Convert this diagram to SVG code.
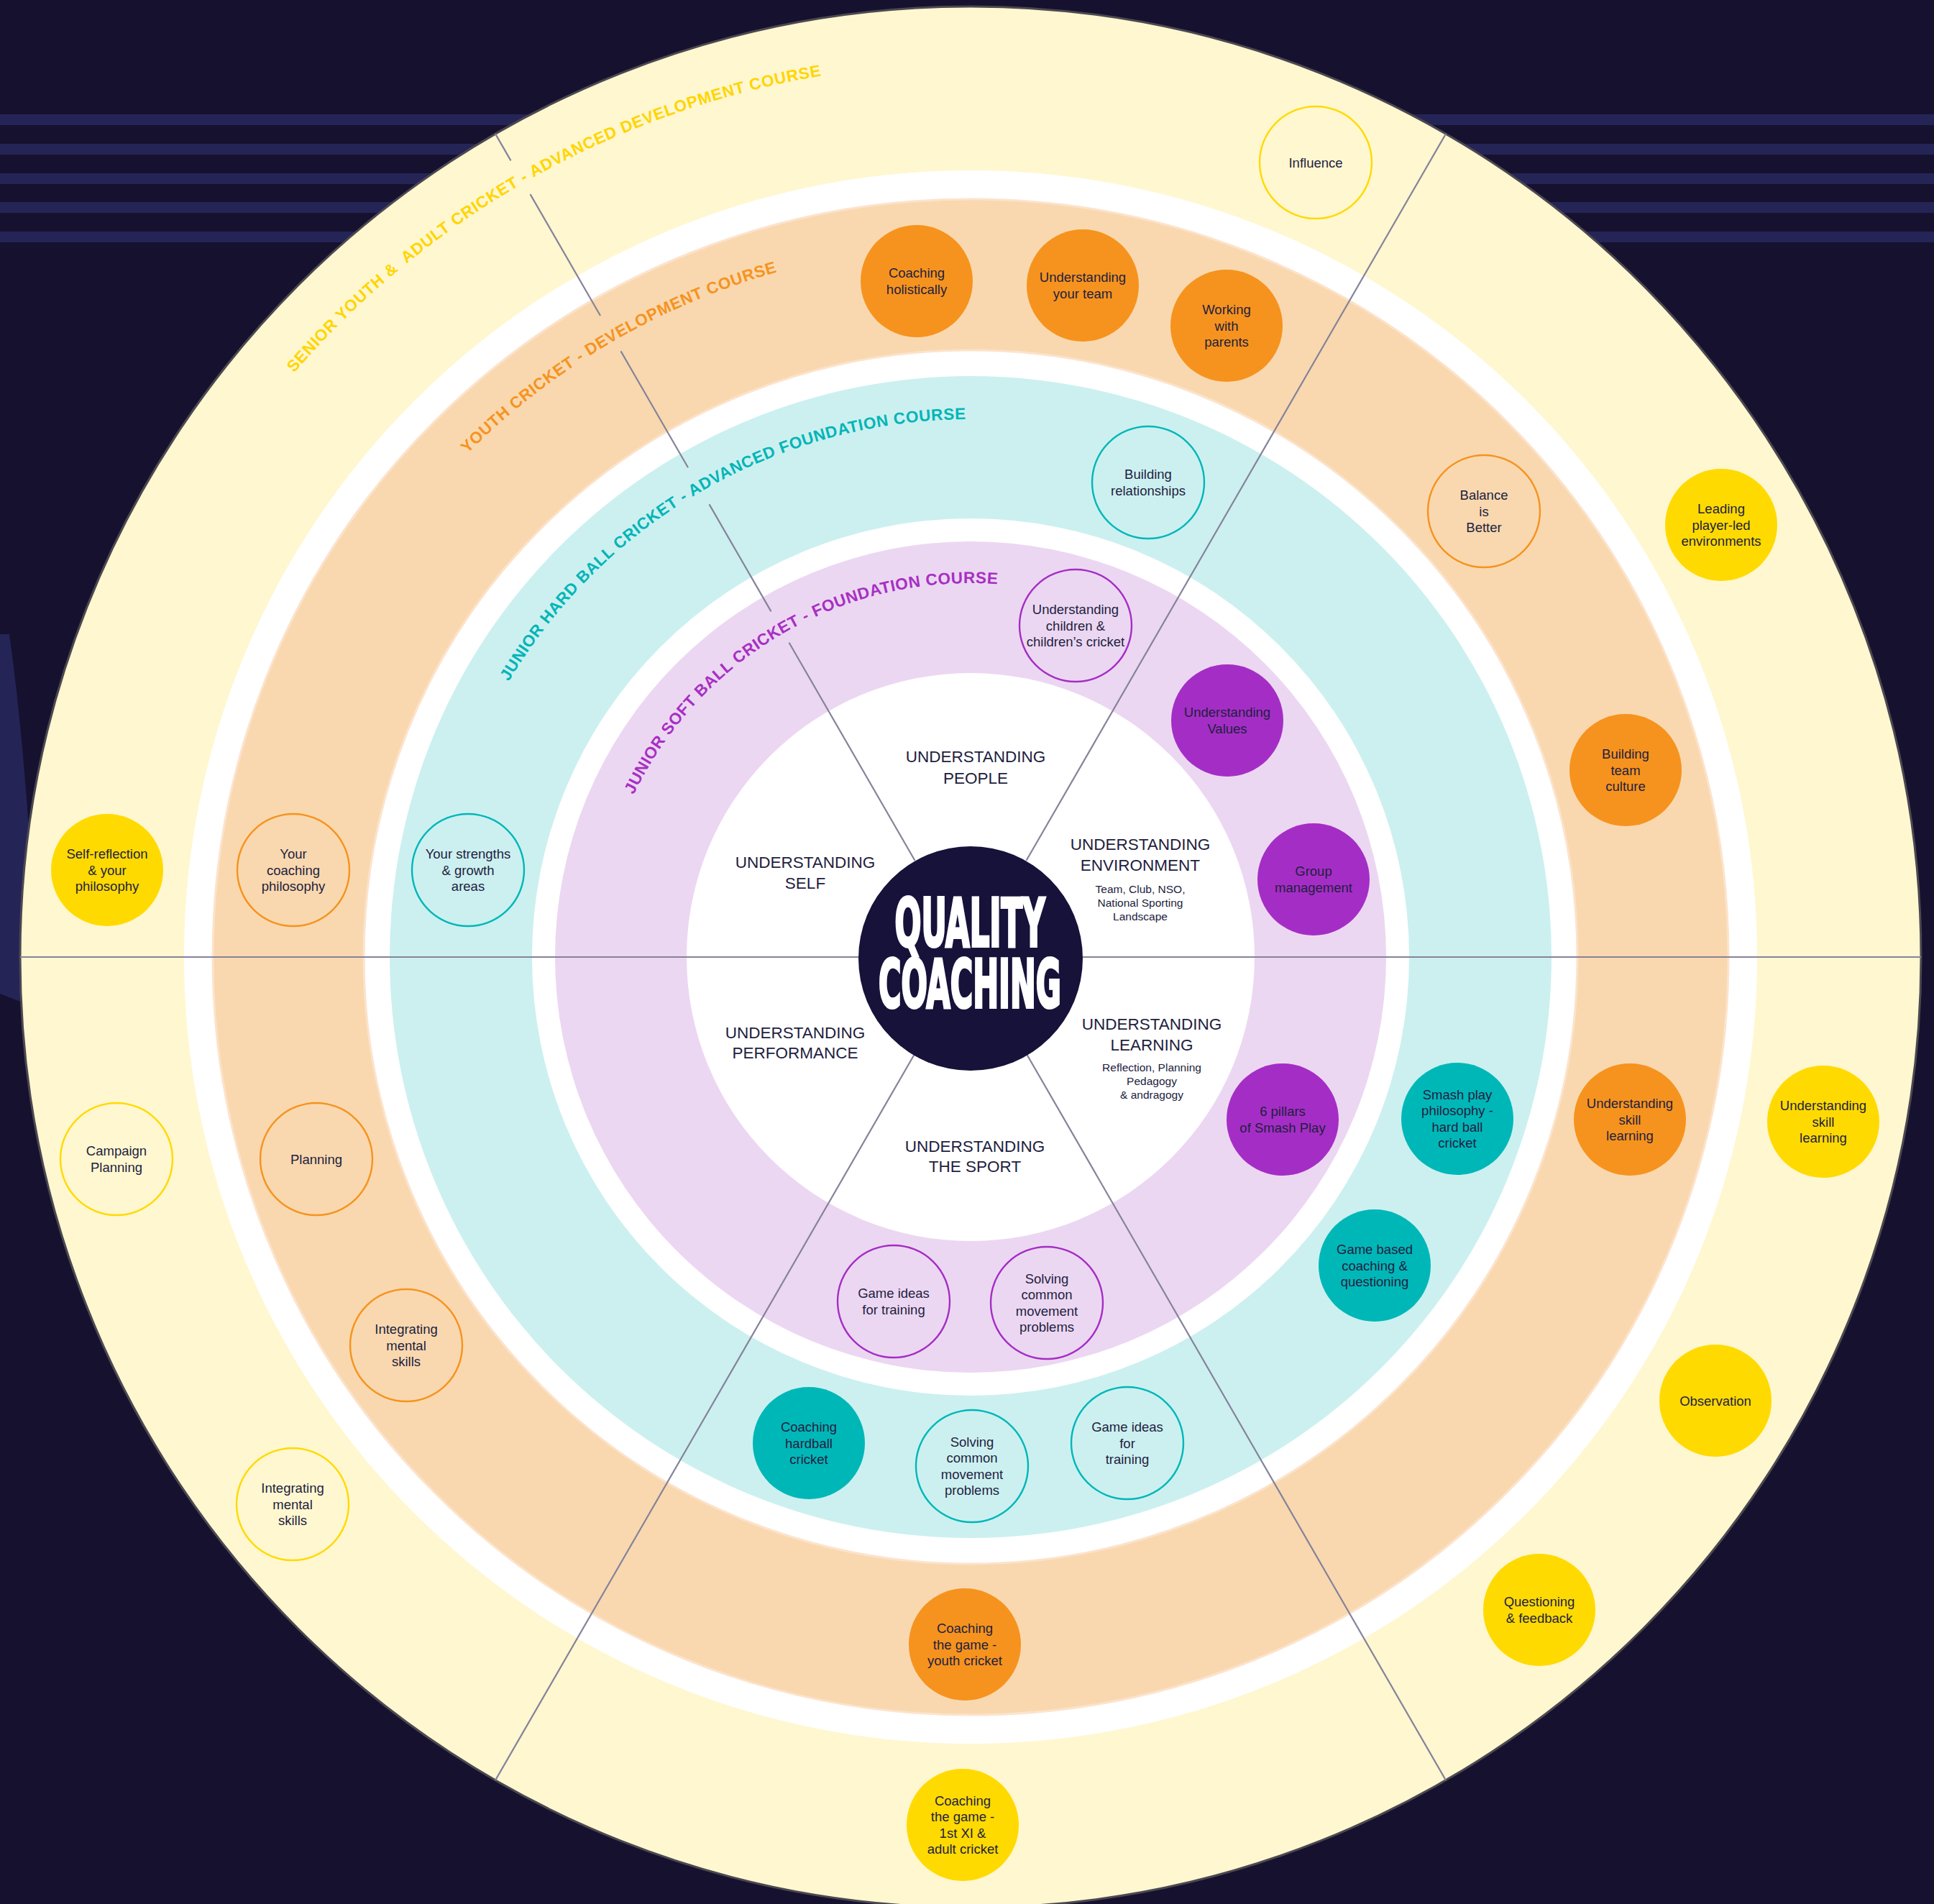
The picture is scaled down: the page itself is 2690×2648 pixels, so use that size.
<svg xmlns="http://www.w3.org/2000/svg" width="2690" height="2648" viewBox="0 0 2690 2648">
<style>
.nt{font-family:"Liberation Sans",Arial,sans-serif;font-size:18.5px;fill:#221E40;text-anchor:middle}
.il{font-family:"Liberation Sans",Arial,sans-serif;font-size:22.5px;fill:#221E40;text-anchor:middle}
.is{font-family:"Liberation Sans",Arial,sans-serif;font-size:15.5px;fill:#221E40;text-anchor:middle}
.rl{font-family:"Liberation Sans",Arial,sans-serif;font-weight:700;font-size:22.5px;white-space:pre}
.fy{fill:#FFDA00}.oy{fill:none;stroke:#FFDA00;stroke-width:2.4}
.fo{fill:#F6931E}.oo{fill:none;stroke:#F6931E;stroke-width:2.4}
.fc{fill:#00B7B8}.oc{fill:none;stroke:#00B7B8;stroke-width:2.4}
.fp{fill:#A42EC5}.op{fill:none;stroke:#A42EC5;stroke-width:2.4}
.sp{stroke:#85839A;stroke-width:2.2;fill:none}
.stripe{fill:#252457}
.title{font-family:'Liberation Sans Narrow','DejaVu Sans Condensed','Liberation Sans',sans-serif;font-weight:700;font-size:92px;fill:#FFFFFF;stroke:#FFFFFF;stroke-width:4;text-anchor:middle}
</style>
<defs>
<path id="arcY" d="M409.0,518.8 A1243,1243 0 0 1 1971.5,254.5"/>
<path id="arcO" d="M650.0,631.0 A990,990 0 0 1 1845,473.6"/>
<path id="arcC" d="M707.5,948.0 A748,748 0 0 1 1724,683.2"/>
<path id="arcP" d="M881.4,1105.5 A520,520 0 0 1 1610,880.7"/>
</defs>
<rect x="0" y="0" width="2690" height="2648" fill="#15112F"/>
<g id="stripes">
<rect class="stripe" x="0" y="159" width="2690" height="15"/>
<rect class="stripe" x="0" y="200" width="2690" height="15"/>
<rect class="stripe" x="0" y="241" width="2690" height="15"/>
<rect class="stripe" x="0" y="281" width="2690" height="15"/>
<rect class="stripe" x="0" y="322" width="2690" height="15"/>
</g>
<path id="leftshape" d="M0,882 L13,882 C24,960 34,1060 42,1180 L70,1180 L70,1400 L28,1393 L0,1382 Z" fill="#252457"/>
<g id="rings">
<circle cx="1350" cy="1331" r="1322" fill="#FFF7D0" stroke="#4B4850" stroke-width="3"/>
<circle cx="1350" cy="1331" r="1094" fill="#FFFFFF"/>
<circle cx="1350" cy="1331" r="1054" fill="#F9D8AF" stroke="#FCE3CC" stroke-width="3"/>
<circle cx="1350" cy="1331" r="844" fill="#FFFFFF" stroke="#FCE3CC" stroke-width="3"/>
<circle cx="1350" cy="1331" r="808" fill="#CCF0F0"/>
<circle cx="1350" cy="1331" r="610" fill="#FFFFFF"/>
<circle cx="1350" cy="1331" r="578" fill="#ECD7F2"/>
<circle cx="1350" cy="1331" r="395" fill="#FFFFFF"/>
</g>
<g id="connectors">
<line class="sp" x1="28" y1="1331" x2="2672" y2="1331"/>
<line class="sp" x1="1427.5" y1="1196.8" x2="2011" y2="186.1"/>
<line class="sp" x1="1427.5" y1="1465.2" x2="2011" y2="2475.9"/>
<line class="sp" x1="1272.5" y1="1465.2" x2="689" y2="2475.9"/>
<line class="sp" x1="1272.5" y1="1196.8" x2="1097.5" y2="893.7"/>
<line class="sp" x1="1072.5" y1="850.4" x2="986.5" y2="701.4"/>
<line class="sp" x1="957" y1="650.3" x2="863.5" y2="488.4"/>
<line class="sp" x1="835" y1="439.0" x2="737.5" y2="270.1"/>
<line class="sp" x1="710.5" y1="223.4" x2="689" y2="186.1"/>
</g>
<g id="ring-labels">
<text class="rl" fill="#FFD500"><textPath href="#arcY" textLength="859" lengthAdjust="spacing">SENIOR YOUTH &amp;  ADULT CRICKET - ADVANCED DEVELOPMENT COURSE</textPath></text>
<text class="rl" fill="#F6931E"><textPath href="#arcO" textLength="505" lengthAdjust="spacing">YOUTH CRICKET - DEVELOPMENT COURSE</textPath></text>
<text class="rl" fill="#00B5B8"><textPath href="#arcC" textLength="766" lengthAdjust="spacing">JUNIOR HARD BALL CRICKET - ADVANCED FOUNDATION COURSE</textPath></text>
<text class="rl" fill="#A72FC4"><textPath href="#arcP" textLength="621" lengthAdjust="spacing">JUNIOR SOFT BALL CRICKET - FOUNDATION COURSE</textPath></text>
</g>
<g id="n-influence"><circle class="oy" cx="1830" cy="226" r="78"/><text class="nt"><tspan x="1830" y="232.5">Influence</tspan></text></g>
<g id="n-leading"><circle class="fy" cx="2394" cy="730" r="78"/><text class="nt"><tspan x="2394" y="714">Leading</tspan><tspan x="2394" y="736.5">player-led</tspan><tspan x="2394" y="759">environments</tspan></text></g>
<g id="n-selfreflection"><circle class="fy" cx="149" cy="1210" r="78"/><text class="nt"><tspan x="149" y="1194">Self-reflection</tspan><tspan x="149" y="1216.5">&amp; your</tspan><tspan x="149" y="1239">philosophy</tspan></text></g>
<g id="n-campaign"><circle class="oy" cx="162" cy="1612" r="78"/><text class="nt"><tspan x="162" y="1607.25">Campaign</tspan><tspan x="162" y="1629.75">Planning</tspan></text></g>
<g id="n-integrating-y"><circle class="oy" cx="407" cy="2092" r="78"/><text class="nt"><tspan x="407" y="2076">Integrating</tspan><tspan x="407" y="2098.5">mental</tspan><tspan x="407" y="2121">skills</tspan></text></g>
<g id="n-coaching-adult"><circle class="fy" cx="1339" cy="2538" r="78"/><text class="nt"><tspan x="1339" y="2510.75">Coaching</tspan><tspan x="1339" y="2533.25">the game -</tspan><tspan x="1339" y="2555.75">1st XI &amp;</tspan><tspan x="1339" y="2578.25">adult cricket</tspan></text></g>
<g id="n-questioning"><circle class="fy" cx="2141" cy="2239" r="78"/><text class="nt"><tspan x="2141" y="2234.25">Questioning</tspan><tspan x="2141" y="2256.75">&amp; feedback</tspan></text></g>
<g id="n-observation"><circle class="fy" cx="2386" cy="1948" r="78"/><text class="nt"><tspan x="2386" y="1954.5">Observation</tspan></text></g>
<g id="n-skill-y"><circle class="fy" cx="2536" cy="1560" r="78"/><text class="nt"><tspan x="2536" y="1544">Understanding</tspan><tspan x="2536" y="1566.5">skill</tspan><tspan x="2536" y="1589">learning</tspan></text></g>
<g id="n-holistic"><circle class="fo" cx="1275" cy="391" r="78"/><text class="nt"><tspan x="1275" y="386.25">Coaching</tspan><tspan x="1275" y="408.75">holistically</tspan></text></g>
<g id="n-team"><circle class="fo" cx="1506" cy="397" r="78"/><text class="nt"><tspan x="1506" y="392.25">Understanding</tspan><tspan x="1506" y="414.75">your team</tspan></text></g>
<g id="n-parents"><circle class="fo" cx="1706" cy="453" r="78"/><text class="nt"><tspan x="1706" y="437">Working</tspan><tspan x="1706" y="459.5">with</tspan><tspan x="1706" y="482">parents</tspan></text></g>
<g id="n-balance"><circle class="oo" cx="2064" cy="711" r="78"/><text class="nt"><tspan x="2064" y="695">Balance</tspan><tspan x="2064" y="717.5">is</tspan><tspan x="2064" y="740">Better</tspan></text></g>
<g id="n-culture"><circle class="fo" cx="2261" cy="1071" r="78"/><text class="nt"><tspan x="2261" y="1055">Building</tspan><tspan x="2261" y="1077.5">team</tspan><tspan x="2261" y="1100">culture</tspan></text></g>
<g id="n-skill-o"><circle class="fo" cx="2267" cy="1557" r="78"/><text class="nt"><tspan x="2267" y="1541">Understanding</tspan><tspan x="2267" y="1563.5">skill</tspan><tspan x="2267" y="1586">learning</tspan></text></g>
<g id="n-coaching-youth"><circle class="fo" cx="1342" cy="2287" r="78"/><text class="nt"><tspan x="1342" y="2271">Coaching</tspan><tspan x="1342" y="2293.5">the game -</tspan><tspan x="1342" y="2316">youth cricket</tspan></text></g>
<g id="n-integrating-o"><circle class="oo" cx="565" cy="1871" r="78"/><text class="nt"><tspan x="565" y="1855">Integrating</tspan><tspan x="565" y="1877.5">mental</tspan><tspan x="565" y="1900">skills</tspan></text></g>
<g id="n-planning"><circle class="oo" cx="440" cy="1612" r="78"/><text class="nt"><tspan x="440" y="1618.5">Planning</tspan></text></g>
<g id="n-philosophy"><circle class="oo" cx="408" cy="1210" r="78"/><text class="nt"><tspan x="408" y="1194">Your</tspan><tspan x="408" y="1216.5">coaching</tspan><tspan x="408" y="1239">philosophy</tspan></text></g>
<g id="n-relationships"><circle class="oc" cx="1597" cy="671" r="78"/><text class="nt"><tspan x="1597" y="666.25">Building</tspan><tspan x="1597" y="688.75">relationships</tspan></text></g>
<g id="n-smashplay"><circle class="fc" cx="2027" cy="1556" r="78"/><text class="nt"><tspan x="2027" y="1528.75">Smash play</tspan><tspan x="2027" y="1551.25">philosophy -</tspan><tspan x="2027" y="1573.75">hard ball</tspan><tspan x="2027" y="1596.25">cricket</tspan></text></g>
<g id="n-gamebased"><circle class="fc" cx="1912" cy="1760" r="78"/><text class="nt"><tspan x="1912" y="1744">Game based</tspan><tspan x="1912" y="1766.5">coaching &amp;</tspan><tspan x="1912" y="1789">questioning</tspan></text></g>
<g id="n-gameideas-c"><circle class="oc" cx="1568" cy="2007" r="78"/><text class="nt"><tspan x="1568" y="1991">Game ideas</tspan><tspan x="1568" y="2013.5">for</tspan><tspan x="1568" y="2036">training</tspan></text></g>
<g id="n-solving-c"><circle class="oc" cx="1352" cy="2039" r="78"/><text class="nt"><tspan x="1352" y="2011.75">Solving</tspan><tspan x="1352" y="2034.25">common</tspan><tspan x="1352" y="2056.75">movement</tspan><tspan x="1352" y="2079.25">problems</tspan></text></g>
<g id="n-hardball"><circle class="fc" cx="1125" cy="2007" r="78"/><text class="nt"><tspan x="1125" y="1991">Coaching</tspan><tspan x="1125" y="2013.5">hardball</tspan><tspan x="1125" y="2036">cricket</tspan></text></g>
<g id="n-strengths"><circle class="oc" cx="651" cy="1210" r="78"/><text class="nt"><tspan x="651" y="1194">Your strengths</tspan><tspan x="651" y="1216.5">&amp; growth</tspan><tspan x="651" y="1239">areas</tspan></text></g>
<g id="n-children"><circle class="op" cx="1496" cy="870" r="78"/><text class="nt"><tspan x="1496" y="854">Understanding</tspan><tspan x="1496" y="876.5">children &amp;</tspan><tspan x="1496" y="899">children’s cricket</tspan></text></g>
<g id="n-values"><circle class="fp" cx="1707" cy="1002" r="78"/><text class="nt"><tspan x="1707" y="997.25">Understanding</tspan><tspan x="1707" y="1019.75">Values</tspan></text></g>
<g id="n-group"><circle class="fp" cx="1827" cy="1223" r="78"/><text class="nt"><tspan x="1827" y="1218.25">Group</tspan><tspan x="1827" y="1240.75">management</tspan></text></g>
<g id="n-pillars"><circle class="fp" cx="1784" cy="1557" r="78"/><text class="nt"><tspan x="1784" y="1552.25">6 pillars</tspan><tspan x="1784" y="1574.75">of Smash Play</tspan></text></g>
<g id="n-solving-p"><circle class="op" cx="1456" cy="1812" r="78"/><text class="nt"><tspan x="1456" y="1784.75">Solving</tspan><tspan x="1456" y="1807.25">common</tspan><tspan x="1456" y="1829.75">movement</tspan><tspan x="1456" y="1852.25">problems</tspan></text></g>
<g id="n-gameideas-p"><circle class="op" cx="1243" cy="1810" r="78"/><text class="nt"><tspan x="1243" y="1805.25">Game ideas</tspan><tspan x="1243" y="1827.75">for training</tspan></text></g>
<g id="center">
<circle cx="1350" cy="1333" r="156" fill="#16123A"/>
<text class="title" x="1349" y="1316" textLength="209" lengthAdjust="spacingAndGlyphs">QUALITY</text>
<text class="title" x="1349" y="1401" textLength="254" lengthAdjust="spacingAndGlyphs">COACHING</text>
</g>
<g id="inner-labels">
<text class="il"><tspan x="1357" y="1060">UNDERSTANDING</tspan><tspan x="1357" y="1090">PEOPLE</tspan></text>
<text class="il"><tspan x="1120" y="1207">UNDERSTANDING</tspan><tspan x="1120" y="1236">SELF</tspan></text>
<text class="il"><tspan x="1586" y="1182">UNDERSTANDING</tspan><tspan x="1586" y="1211">ENVIRONMENT</tspan></text>
<text class="is"><tspan x="1586" y="1242">Team, Club, NSO,</tspan><tspan x="1586" y="1261">National Sporting</tspan><tspan x="1586" y="1280">Landscape</tspan></text>
<text class="il"><tspan x="1602" y="1432">UNDERSTANDING</tspan><tspan x="1602" y="1461">LEARNING</tspan></text>
<text class="is"><tspan x="1602" y="1490">Reflection, Planning</tspan><tspan x="1602" y="1509">Pedagogy</tspan><tspan x="1602" y="1528">&amp; andragogy</tspan></text>
<text class="il"><tspan x="1106" y="1444">UNDERSTANDING</tspan><tspan x="1106" y="1472">PERFORMANCE</tspan></text>
<text class="il"><tspan x="1356" y="1602">UNDERSTANDING</tspan><tspan x="1356" y="1630">THE SPORT</tspan></text>
</g>
</svg>
